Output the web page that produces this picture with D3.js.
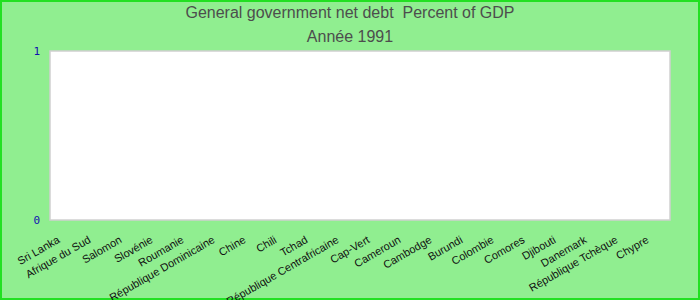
<!DOCTYPE html>
<html>
<head>
<meta charset="utf-8">
<script src="https://cdn.jsdelivr.net/npm/d3@7"></script>
<style>
  body { margin: 0; background: #fff; }
  svg { display: block; }
</style>
</head>
<body>
<div id="chart"></div>
<script>
// Net debt chart, 1991 - no values reported for these countries
const countries = ["Sri Lanka", "Afrique du Sud", "Salomon", "Slovénie", "Roumanie",
    "République Dominicaine", "Chine", "Chili", "Tchad", "République Centrafricaine",
    "Cap-Vert", "Cameroun", "Cambodge", "Burundi", "Colombie", "Comores", "Djibouti",
    "Danemark", "République Tchèque", "Chypre"];
const values = [null, null, null, null, null, null, null, null, null, null,
    null, null, null, null, null, null, null, null, null, null];
const yTicks = [0, 1];
const title = "General government net debt  Percent of GDP";
const subtitle = "Année 1991";

const W = 700, H = 300;
const margin = { top: 51, right: 30, bottom: 80, left: 50 };
const width = W - margin.left - margin.right;
const height = H - margin.top - margin.bottom;

const svg = d3.select("#chart").append("svg").attr("width", W).attr("height", H);

svg.append("rect").attr("x", 1).attr("y", 1).attr("width", W - 2).attr("height", H - 2)
    .attr("fill", "#90ee90").attr("stroke", "#22e022").attr("stroke-width", 2);

svg.append("text").attr("x", W / 2).attr("y", 18).attr("text-anchor", "middle")
    .attr("font-family", "Liberation Sans, Arial, sans-serif").attr("font-size", 16)
    .style("white-space", "pre")
    .attr("fill", "#4d4d4d").text(title);
svg.append("text").attr("x", W / 2).attr("y", 42).attr("text-anchor", "middle")
    .attr("font-family", "Liberation Sans, Arial, sans-serif").attr("font-size", 16)
    .attr("fill", "#4d4d4d").text(subtitle);

const x = d3.scaleBand().domain(countries).range([0, width]);
const y = d3.scaleLinear().domain([0, 1]).range([height, 0]);

const g = svg.append("g").attr("transform", `translate(${margin.left},${margin.top})`);

g.append("rect").attr("width", width).attr("height", height)
    .attr("fill", "#fff").attr("stroke", "#d0d0d0").attr("stroke-width", 1.5);

g.selectAll("rect.bar")
    .data(countries.map((c, i) => ({ c, v: values[i] })).filter(d => d.v != null))
    .enter()
    .append("rect")
    .attr("class", "bar")
    .attr("x", d => x(d.c) + 4)
    .attr("width", x.bandwidth() - 8)
    .attr("y", d => y(d.v))
    .attr("height", d => height - y(d.v))
    .attr("fill", "steelblue");

// y labels
const yAxis = g.append("g").call(d3.axisLeft(y).tickValues(yTicks).tickFormat(d3.format("d")).tickSize(0).tickPadding(10));
yAxis.select(".domain").remove();
yAxis.selectAll("text").attr("font-family", "DejaVu Sans Mono, monospace").attr("font-size", 11)
    .attr("fill", "#1010b0");

// x labels, rotated
const xAxis = g.append("g").attr("transform", `translate(0,${height})`)
    .call(d3.axisBottom(x).tickSize(0));
xAxis.select(".domain").remove();
xAxis.selectAll("text")
    .attr("font-family", "Liberation Sans, Arial, sans-serif").attr("font-size", 11)
    .attr("fill", "#111")
    .attr("text-anchor", "end")
    .attr("dy", null)
    .attr("y", 0)
    .attr("transform", "translate(-5,22) rotate(-30)");
</script>
</body>
</html>
